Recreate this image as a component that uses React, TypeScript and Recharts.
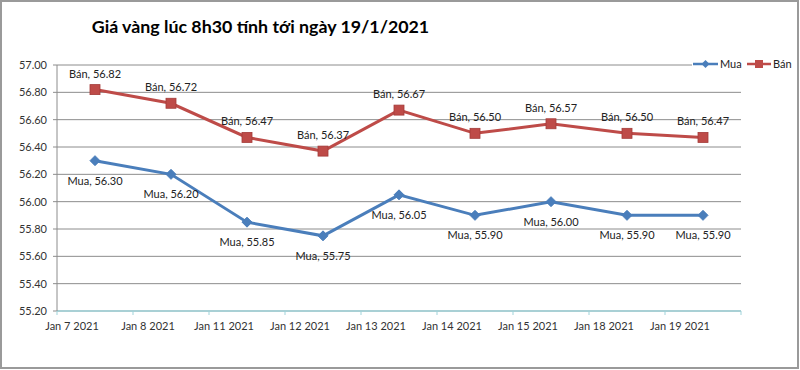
import React from 'react';
import { LineChart, Line, XAxis, YAxis, CartesianGrid, LabelList } from 'recharts';

const categories = ['Jan 7 2021', 'Jan 8 2021', 'Jan 11 2021', 'Jan 12 2021', 'Jan 13 2021', 'Jan 14 2021', 'Jan 15 2021', 'Jan 18 2021', 'Jan 19 2021'];
const muaValues = [56.3, 56.2, 55.85, 55.75, 56.05, 55.9, 56.0, 55.9, 55.9];
const banValues = [56.82, 56.72, 56.47, 56.37, 56.67, 56.5, 56.57, 56.5, 56.47];
const yTicks = [55.2, 55.4, 55.6, 55.8, 56.0, 56.2, 56.4, 56.6, 56.8, 57.0];
const titleText = 'Giá vàng lúc 8h30 tính tới ngày 19/1/2021';
const seriesNames = { mua: 'Mua', ban: 'Bán' };

const data = categories.map((c, i) => ({ date: c, mua: muaValues[i], ban: banValues[i] }));

const BLUE = '#4a7ebb';
const RED = '#be4b48';
const FONT = 'Lato, "Open Sans", sans-serif';

const WIDTH = 800;
const HEIGHT = 370;
const MARGIN = { top: 65, right: 59, left: 0, bottom: 39 };
const YAXIS_W = 57;
const HALF_BAND = (WIDTH - MARGIN.right - YAXIS_W) / categories.length / 2;

const XTick = (props: any) => {
  const { x, y, payload, index } = props;
  const last = index === categories.length - 1;
  return (
    <g>
      <line x1={x - HALF_BAND} x2={x - HALF_BAND} y1={y - 8} y2={y - 4} stroke="#9fd3da" />
      {last && <line x1={x + HALF_BAND} x2={x + HALF_BAND} y1={y - 8} y2={y - 4} stroke="#9fd3da" />}
      <text x={x - 23} y={y + 11} textAnchor="middle" fontSize={11} fill="#333" fontFamily={FONT}>
        {payload.value}
      </text>
    </g>
  );
};

const YTick = (props: any) => {
  const { x, y, payload } = props;
  return (
    <text x={x - 4} y={y + 4} textAnchor="end" fontSize={11} fill="#333" fontFamily={FONT}>
      {payload.value.toFixed(2)}
    </text>
  );
};

const makeLabel = (name: string, dy: number) => (props: any) => {
  const { x, y, value } = props;
  return (
    <text x={x} y={y + dy} textAnchor="middle" fontSize={11} fill="#222" fontFamily={FONT}>
      {`${name}, ${Number(value).toFixed(2)}`}
    </text>
  );
};

const Diamond = (props: any) => {
  const { cx, cy } = props;
  return <path d={`M${cx},${cy - 5} L${cx + 5},${cy} L${cx},${cy + 5} L${cx - 5},${cy} Z`} fill={BLUE} stroke={BLUE} />;
};

const Square = (props: any) => {
  const { cx, cy } = props;
  return <rect x={cx - 5} y={cy - 5} width={10} height={10} fill={RED} stroke="#a33b38" strokeWidth={0.8} />;
};

export default function App() {
  return (
    <div style={{ position: 'fixed', left: 0, top: 0, width: WIDTH, height: HEIGHT, background: '#fff' }}>
      <LineChart width={WIDTH} height={HEIGHT} data={data} margin={MARGIN}>
        <CartesianGrid vertical={false} stroke="#8c8c8c" strokeWidth={1} />
        <XAxis
          dataKey="date"
          scale="band"
          tickLine={false}
          axisLine={{ stroke: '#9fd3da', strokeWidth: 1.5 }}
          tick={<XTick />}
          interval={0}
          height={20}
        />
        <YAxis
          domain={[55.2, 57.0]}
          ticks={yTicks}
          width={YAXIS_W}
          axisLine={{ stroke: '#8c8c8c' }}
          tickLine={{ stroke: '#8c8c8c' }}
          tickSize={4}
          tick={<YTick />}
          interval={0}
        />
        <Line
          dataKey="mua"
          stroke={BLUE}
          strokeWidth={3}
          dot={<Diamond />}
          isAnimationActive={false}
        >
          <LabelList dataKey="mua" content={makeLabel(seriesNames.mua, 24)} />
        </Line>
        <Line
          dataKey="ban"
          stroke={RED}
          strokeWidth={3}
          dot={<Square />}
          isAnimationActive={false}
        >
          <LabelList dataKey="ban" content={makeLabel(seriesNames.ban, -12)} />
        </Line>
      </LineChart>
      <div
        style={{
          position: 'absolute',
          left: 0,
          top: 15,
          width: 521,
          textAlign: 'center',
          fontFamily: FONT,
          fontWeight: 700,
          fontSize: 17.8,
          color: '#000',
          whiteSpace: 'nowrap',
        }}
      >
        {titleText}
      </div>
      <svg style={{ position: 'absolute', left: 0, top: 0 }} width={WIDTH} height={HEIGHT}>
        <rect x={692} y={56} width={104} height={16} fill="#fff" />
        <line x1={693} x2={718} y1={64} y2={64} stroke={BLUE} strokeWidth={2.5} />
        <path d="M705.5,60 L709.5,64 L705.5,68 L701.5,64 Z" fill={BLUE} />
        <text x={720} y={68} fontSize={11} fontFamily={FONT} fill="#222">{seriesNames.mua}</text>
        <line x1={747} x2={771} y1={64} y2={64} stroke={RED} strokeWidth={2.5} />
        <rect x={755} y={60} width={8} height={8} fill={RED} />
        <text x={773} y={68} fontSize={11} fontFamily={FONT} fill="#222">{seriesNames.ban}</text>
        <rect x={1} y={1} width={797} height={367} fill="none" stroke="#9a9a9a" strokeWidth={2} />
      </svg>
    </div>
  );
}
